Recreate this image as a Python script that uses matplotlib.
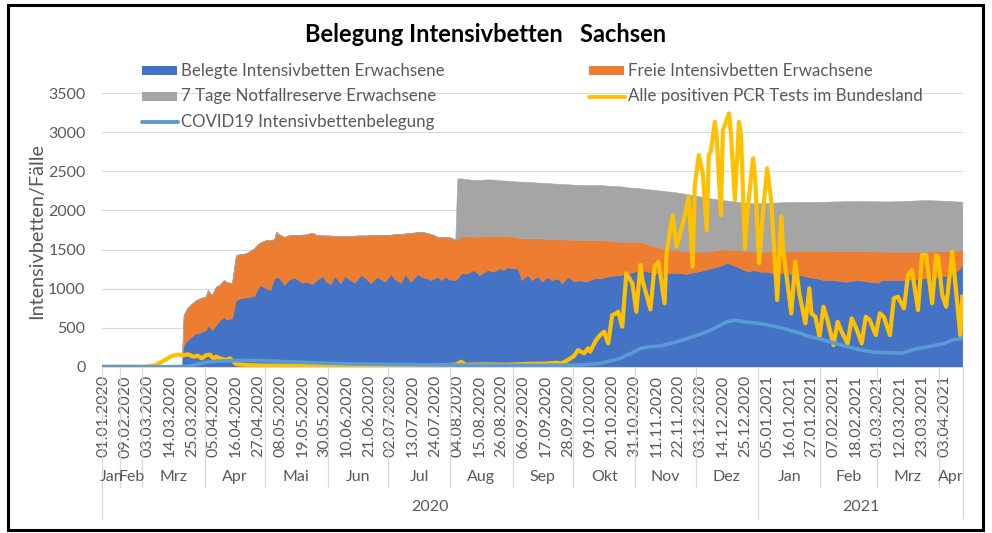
import matplotlib
matplotlib.use("Agg")
import matplotlib.pyplot as plt
import pandas as pd
from matplotlib import transforms
from matplotlib.patches import Rectangle
from matplotlib.lines import Line2D

plt.rcParams['font.family'] = ['Lato', 'DejaVu Sans']

# x categories: a few dates in Jan/Feb 2020, then one per day
jan_feb = ["2020-01-01", "2020-01-04", "2020-01-08", "2020-01-11", "2020-01-15",
           "2020-01-18", "2020-01-22", "2020-01-25", "2020-01-29",
           "2020-02-01", "2020-02-05", "2020-02-09", "2020-02-12", "2020-02-15",
           "2020-02-18", "2020-02-20", "2020-02-22", "2020-02-24", "2020-02-26",
           "2020-02-28"]
daily_from, daily_to = "2020-03-01", "2021-04-12"
month_names = ["Jan", "Feb", "Mrz", "Apr", "Mai", "Jun", "Jul", "Aug", "Sep", "Okt", "Nov", "Dez"]

# stacked areas
area_dates = [
    "2020-03-20", "2020-03-21", "2020-03-23", "2020-03-27", "2020-03-29",
    "2020-04-01", "2020-04-02", "2020-04-04", "2020-04-06", "2020-04-08", "2020-04-10", "2020-04-11",
    "2020-04-14", "2020-04-16", "2020-04-18", "2020-04-21", "2020-04-25", "2020-04-26", "2020-04-28",
    "2020-05-01", "2020-05-03", "2020-05-05", "2020-05-06", "2020-05-07", "2020-05-10", "2020-05-12",
    "2020-05-15", "2020-05-19", "2020-05-21", "2020-05-24", "2020-05-26", "2020-05-29", "2020-05-31",
    "2020-06-02", "2020-06-04", "2020-06-07", "2020-06-09", "2020-06-12", "2020-06-14", "2020-06-17",
    "2020-06-19", "2020-06-22", "2020-06-25", "2020-06-29",
    "2020-07-02", "2020-07-04", "2020-07-07", "2020-07-09", "2020-07-12", "2020-07-15", "2020-07-18",
    "2020-07-20", "2020-07-22", "2020-07-25", "2020-07-27", "2020-07-29", "2020-07-31",
    "2020-08-03", "2020-08-04", "2020-08-06", "2020-08-09", "2020-08-12", "2020-08-15", "2020-08-19",
    "2020-08-22", "2020-08-25", "2020-08-27", "2020-08-29",
    "2020-09-01", "2020-09-03", "2020-09-05", "2020-09-08", "2020-09-10", "2020-09-13", "2020-09-15",
    "2020-09-18", "2020-09-20", "2020-09-23", "2020-09-25", "2020-09-28",
    "2020-10-01", "2020-10-04", "2020-10-07", "2020-10-11", "2020-10-14", "2020-10-19", "2020-10-24",
    "2020-10-29",
    "2020-11-03", "2020-11-08", "2020-11-13", "2020-11-20", "2020-11-26",
    "2020-12-01", "2020-12-05", "2020-12-08", "2020-12-11", "2020-12-14", "2020-12-16", "2020-12-19",
    "2020-12-21", "2020-12-24", "2020-12-27", "2020-12-29",
    "2021-01-02", "2021-01-05", "2021-01-08", "2021-01-12", "2021-01-15", "2021-01-22", "2021-01-25",
    "2021-01-30",
    "2021-02-02", "2021-02-07", "2021-02-13", "2021-02-19", "2021-02-25",
    "2021-03-01", "2021-03-03", "2021-03-07", "2021-03-12", "2021-03-17", "2021-03-24", "2021-03-31",
    "2021-04-06", "2021-04-10", "2021-04-12"]

belegt = [
    0, 278, 342, 427, 436,
    469, 533, 469, 533, 597, 640, 606, 619, 853, 875, 888, 905, 960, 1046,
    1003, 982, 1131, 1140, 1152, 1046, 1109, 1144, 1075, 1088, 1058, 1109, 1161, 1088,
    1058, 1161, 1067, 1161, 1109, 1075, 1174, 1144, 1067, 1152, 1088,
    1186, 1118, 1075, 1186, 1088, 1186, 1144, 1131, 1109, 1152, 1109, 1152, 1118,
    1109, 1130, 1195, 1195, 1238, 1174, 1238, 1216, 1259, 1238, 1272,
    1259, 1259, 1109, 1174, 1109, 1161, 1088, 1152, 1109, 1131, 1067, 1152,
    1088, 1109, 1088, 1131, 1131, 1161, 1174, 1203,
    1238, 1210, 1189, 1203, 1189,
    1216, 1238, 1259, 1280, 1302, 1332, 1302, 1280, 1245, 1216, 1238,
    1216, 1216, 1195, 1203, 1195, 1170, 1150, 1131,
    1109, 1109, 1088, 1109, 1088,
    1075, 1109, 1109, 1109, 1118, 1131, 1152,
    1174, 1238, 1302]

freie = [
    0, 384, 418, 423, 439,
    431, 448, 448, 491, 453, 470, 482, 448, 576, 565, 563, 610, 585, 544,
    619, 640, 499, 588, 548, 614, 571, 542, 615, 607, 657, 577, 519, 592,
    620, 514, 606, 512, 566, 603, 506, 536, 616, 533, 600,
    504, 577, 625, 519, 624, 536, 581, 579, 590, 512, 551, 508, 540,
    521, 492, 478, 473, 426, 494, 435, 457, 414, 435, 401,
    406, 391, 534, 469, 534, 482, 554, 486, 526, 501, 563, 475,
    537, 513, 534, 491, 491, 449, 426, 397,
    362, 345, 331, 287, 291,
    259, 234, 221, 210, 198, 168, 193, 213, 240, 262, 237,
    256, 259, 283, 277, 287, 315, 335, 354,
    376, 374, 394, 372, 390,
    400, 365, 363, 363, 354, 341, 324,
    307, 247, 191]

reserve = [
    0, 0, 0, 0, 0,
    0, 0, 0, 0, 0, 0, 0, 0, 0, 0, 0, 0, 0, 0,
    0, 0, 0, 0, 0, 0, 0, 0, 0, 0, 0, 0, 0, 0,
    0, 0, 0, 0, 0, 0, 0, 0, 0, 0, 0,
    0, 0, 0, 0, 0, 0, 0, 0, 0, 0, 0, 0, 0,
    0, 789, 738, 732, 726, 724, 725, 722, 715, 711, 708,
    710, 720, 725, 722, 719, 714, 713, 712, 712, 709, 709, 708,
    705, 704, 704, 704, 704, 705, 710, 692,
    683, 713, 735, 745, 730,
    713, 696, 675, 655, 630, 628, 623, 619, 615, 617, 616,
    621, 622, 622, 625, 626, 625, 625, 626,
    627, 632, 636, 640, 641,
    642, 642, 644, 648, 653, 661, 652,
    639, 630, 619]

# positive PCR tests
pcr_dates = [
    "2020-01-01",
    "2020-03-01", "2020-03-03", "2020-03-07", "2020-03-10", "2020-03-13", "2020-03-15", "2020-03-18",
    "2020-03-21", "2020-03-23", "2020-03-26", "2020-03-28", "2020-03-30",
    "2020-04-01", "2020-04-03", "2020-04-05", "2020-04-06", "2020-04-08", "2020-04-11", "2020-04-13",
    "2020-04-16", "2020-04-21", "2020-05-01", "2020-05-08", "2020-05-20", "2020-06-04", "2020-06-19",
    "2020-07-04", "2020-07-19", "2020-07-29", "2020-08-03", "2020-08-06", "2020-08-08", "2020-08-18",
    "2020-08-28", "2020-09-07", "2020-09-17", "2020-09-22", "2020-09-25", "2020-09-28",
    "2020-10-01", "2020-10-03", "2020-10-06", "2020-10-08", "2020-10-09", "2020-10-12", "2020-10-14",
    "2020-10-16", "2020-10-18", "2020-10-20", "2020-10-22", "2020-10-23", "2020-10-25", "2020-10-27",
    "2020-10-30",
    "2020-11-01", "2020-11-03", "2020-11-04", "2020-11-08", "2020-11-10", "2020-11-12", "2020-11-15",
    "2020-11-16", "2020-11-19", "2020-11-21", "2020-11-23", "2020-11-25", "2020-11-27", "2020-11-29",
    "2020-11-30",
    "2020-12-02", "2020-12-04", "2020-12-06", "2020-12-07", "2020-12-08", "2020-12-10", "2020-12-11",
    "2020-12-13", "2020-12-14", "2020-12-15", "2020-12-17", "2020-12-18", "2020-12-20", "2020-12-22",
    "2020-12-23", "2020-12-25", "2020-12-26", "2020-12-28", "2020-12-29", "2020-12-30",
    "2021-01-01", "2021-01-03", "2021-01-05", "2021-01-07", "2021-01-10", "2021-01-12", "2021-01-13",
    "2021-01-17", "2021-01-19", "2021-01-21", "2021-01-24", "2021-01-26", "2021-01-27", "2021-01-29",
    "2021-01-31",
    "2021-02-02", "2021-02-04", "2021-02-07", "2021-02-09", "2021-02-11", "2021-02-14", "2021-02-16",
    "2021-02-18", "2021-02-21", "2021-02-23", "2021-02-25", "2021-02-28",
    "2021-03-02", "2021-03-04", "2021-03-07", "2021-03-09", "2021-03-11", "2021-03-14", "2021-03-16",
    "2021-03-18", "2021-03-21", "2021-03-23", "2021-03-25", "2021-03-28", "2021-03-30", "2021-03-31",
    "2021-04-02", "2021-04-04", "2021-04-07", "2021-04-11", "2021-04-12"]

pcr = [
    0,
    0, 5, 20, 60, 107, 137, 154,
    145, 160, 128, 141, 107,
    145, 154, 100, 128, 107, 86, 107,
    35, 22, 14, 14, 10, 8, 6,
    5, 10, 20, 25, 64, 25, 30,
    25, 35, 40, 50, 45, 86,
    137, 213, 171, 235, 192, 341, 405,
    448, 299, 661, 683, 704, 512, 1195,
    1067,
    704, 1302, 1110, 734, 1280, 1344, 811,
    1451, 1941, 1536, 1728, 1920, 2176, 1280,
    2304,
    2709, 2475, 1749, 2709, 2752, 3136, 2923,
    1941, 3029, 3093, 3243, 2987, 2133, 3136,
    2965, 1515, 1920, 2432, 2667, 2432,
    1323, 2005, 2539, 2133, 853, 1920, 1493,
    683, 1344, 939, 555, 1003, 683, 640,
    384,
    768, 597, 277, 576, 448, 299, 619,
    512, 299, 640, 597, 405,
    683, 640, 405, 875, 896, 747, 1173,
    1237, 725, 1429, 1429, 811, 1429, 1408,
    917, 768, 1472, 405, 896]

# COVID19 patients in intensive care
covid_dates = [
    "2020-01-01", "2020-03-01", "2020-03-16", "2020-03-21", "2020-03-25", "2020-03-29",
    "2020-04-02", "2020-04-08", "2020-04-20", "2020-04-30", "2020-05-10", "2020-05-20", "2020-05-30",
    "2020-06-14", "2020-06-29", "2020-07-19", "2020-08-08", "2020-08-28", "2020-09-17",
    "2020-10-04", "2020-10-14", "2020-10-21", "2020-10-24", "2020-10-27", "2020-10-29",
    "2020-11-03", "2020-11-08", "2020-11-13", "2020-11-18", "2020-11-23", "2020-11-28",
    "2020-12-03", "2020-12-08", "2020-12-13", "2020-12-16", "2020-12-20", "2020-12-24", "2020-12-29",
    "2021-01-03", "2021-01-08", "2021-01-13", "2021-01-17", "2021-01-22", "2021-01-25",
    "2021-02-02", "2021-02-11", "2021-02-19", "2021-02-27",
    "2021-03-07", "2021-03-13", "2021-03-19", "2021-03-26",
    "2021-04-03", "2021-04-08", "2021-04-12"]

covid = [
    0, 0, 0, 3, 15, 40,
    60, 72, 80, 78, 65, 55, 45,
    35, 30, 25, 20, 18, 18,
    22, 43, 86, 107, 149, 162,
    235, 256, 265, 299, 333, 375,
    418, 469, 533, 576, 597, 576, 563,
    546, 521, 491, 460, 427, 393,
    342, 277, 222, 185,
    179, 171, 222, 256,
    299, 350, 363]

legend_labels = ["Belegte Intensivbetten Erwachsene", "Freie Intensivbetten Erwachsene",
                 "7 Tage Notfallreserve Erwachsene", "Alle positiven PCR Tests im Bundesland",
                 "COVID19 Intensivbettenbelegung"]

c_blue, c_orange, c_gray, c_yellow, c_lblue = "#4472C4", "#ED7D31", "#A5A5A5", "#FFC000", "#5B9BD5"
txt = "#595959"
grid = "#D9D9D9"
W, H = 992, 533
axis_fs = 11.5


def fx(px):
    return px / W


def fy(py):
    return 1 - py / H


cats = pd.to_datetime(jan_feb).append(pd.date_range(daily_from, daily_to))
pos = {d: i for i, d in enumerate(cats)}


def to_x(dates):
    return [pos[pd.Timestamp(d)] for d in dates]


fig = plt.figure(figsize=(W / 100, H / 100), dpi=100)
ax = fig.add_axes([fx(102.2), fy(366.7), fx(963.3) - fx(102.2), fy(93.3) - fy(366.7)])

polys = ax.stackplot(to_x(area_dates), belegt, freie, reserve,
                     colors=[c_blue, c_orange, c_gray], linewidth=0.4, zorder=2)
for p, c in zip(polys, [c_blue, c_orange, c_gray]):
    p.set_edgecolor(c)
ax.plot(to_x(pcr_dates), pcr, color=c_yellow, lw=3.0, solid_joinstyle='round', zorder=3)
ax.plot(to_x(covid_dates), covid, color=c_lblue, lw=2.6, solid_joinstyle='round', zorder=4)

n = len(cats)
ax.set_xlim(-0.5, n - 0.5)
ax.set_ylim(0, 3500)
ax.set_yticks(range(0, 3501, 500))
ax.grid(axis='y', color=grid, lw=0.8)
ax.set_axisbelow(True)
for s in ax.spines.values():
    s.set_visible(False)
ax.spines['bottom'].set_visible(True)
ax.spines['bottom'].set_color(grid)

ticks = list(range(0, n, 11))
ax.set_xticks(ticks)
ax.set_xticklabels([cats[i].strftime('%d.%m.%Y') for i in ticks], rotation=90)
ax.tick_params(axis='x', length=0, pad=6, labelsize=axis_fs, labelcolor=txt)
ax.tick_params(axis='y', length=0, pad=12, labelsize=axis_fs, labelcolor=txt)

# multi level category axis: month and year rows
bt = transforms.blended_transform_factory(ax.transData, fig.transFigure)
months = [(d.year, d.month) for d in cats]
starts = [0] + [i for i in range(1, n) if months[i] != months[i - 1]]
ends = starts[1:] + [n]
for s, e in zip(starts, ends):
    y, m = months[s]
    ax.text((s + e - 1) / 2, fy(477), month_names[m - 1], transform=bt,
            ha='center', va='center', fontsize=axis_fs, color=txt)
    year_edge = s == 0 or months[s - 1][0] != y
    ax.add_line(Line2D([s - 0.5, s - 0.5], [fy(367), fy(518 if year_edge else 487)],
                       transform=bt, color=grid, lw=0.9, clip_on=False))
ax.add_line(Line2D([n - 0.5, n - 0.5], [fy(367), fy(518)], transform=bt,
                   color=grid, lw=0.9, clip_on=False))
for y in sorted(set(d.year for d in cats)):
    idx = [i for i, d in enumerate(cats) if d.year == y]
    ax.text((idx[0] + idx[-1]) / 2, fy(507), str(y), transform=bt,
            ha='center', va='center', fontsize=axis_fs, color=txt)

# legend drawn by hand, two columns
rows = [70.7, 96.5, 122]
spots = [(142, rows[0]), (589, rows[0]), (142, rows[1]), (589, rows[1]), (142, rows[2])]
kinds = [c_blue, c_orange, c_gray, c_yellow, c_lblue]
for k, ((x0, y0), col, lab) in enumerate(zip(spots, kinds, legend_labels)):
    if k in (3, 4):
        fig.add_artist(Line2D([fx(x0), fx(x0 + 36)], [fy(y0), fy(y0)], color=col, lw=2.8,
                              solid_capstyle='round'))
    else:
        fig.add_artist(Rectangle((fx(x0), fy(y0 + 4.5)), fx(35), 9 / H, color=col, lw=0))
    fig.text(fx(x0 + 39), fy(y0), lab, ha='left', va='center', fontsize=12.2, color=txt)

fig.text(fx(486), fy(35), "Belegung Intensivbetten   Sachsen", ha='center', va='center',
         fontsize=17, fontweight='bold', color='black')
fig.text(fx(37), fy(231), "Intensivbetten/Fälle", rotation=90, ha='center', va='center',
         fontsize=14.3, color=txt)

fig.add_artist(Rectangle((fx(8), fy(530)), fx(983 - 8), (530 - 5) / H, fill=False,
                         edgecolor='black', lw=2.2))

fig.savefig("out.png", dpi=100)
